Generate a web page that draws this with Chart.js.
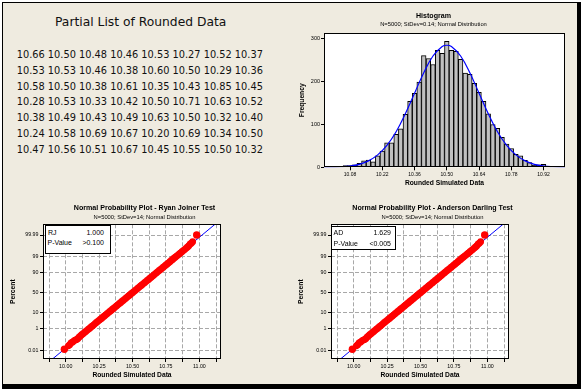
<!DOCTYPE html>
<html lang="en">
<head>
<meta charset="UTF-8">
<title>Partial List of Rounded Data</title>
<script src="https://cdn.jsdelivr.net/npm/chart.js@4.4.0/dist/chart.umd.min.js"></script>
<style>
  body { margin: 0; width: 581px; height: 389px; overflow: hidden; position: relative; background: #fff; }
  .frame {
    position: absolute; left: 2px; top: 2px; width: 579px; height: 387px; box-sizing: border-box;
    background: #efebe0; border-left: 1px solid #000; border-top: 1px solid #000;
    border-right: 4px solid #000; border-bottom: 5px solid #000;
  }
  canvas { position: absolute; display: block; }
  #listTitle {
    position: absolute; left: 55px; top: 15px; font: 12.3px/14px 'DejaVu Sans', sans-serif; color: #111; white-space: nowrap;
  }
  #numbers {
    position: absolute; left: 16.7px; top: 47.3px; font: 9.8px/15.72px 'DejaVu Sans', sans-serif; color: #111; white-space: pre;
  }
  .statBox {
    position: absolute; background: #fff; border: 1.5px solid #000; box-sizing: border-box;
    font: 7px 'Liberation Sans', Arial, sans-serif; color: #000;
  }
  .statBox span { position: absolute; line-height: 8px; white-space: nowrap; }
</style>
</head>
<body>
<div class="frame"></div>
<div id="listTitle">Partial List of Rounded Data</div>
<div id="numbers"></div>

<canvas id="histChart" width="287" height="195" style="left:290px; top:0px;"></canvas>
<canvas id="rjChart" width="285" height="185" style="left:2px; top:197px;"></canvas>
<canvas id="adChart" width="285" height="185" style="left:290px; top:197px;"></canvas>

<div class="statBox" style="left:45px; top:224.5px; width:66px; height:29.5px;">
  <span style="left:2px; top:3px;">RJ</span><span style="right:6px; top:3px;">1.000</span>
  <span style="left:1.5px; top:13px;">P-Value</span><span style="right:6px; top:13px;">&gt;0.100</span>
</div>
<div class="statBox" style="left:330.5px; top:225.5px; width:65.5px; height:24.5px;">
  <span style="left:2px; top:2px;">AD</span><span style="right:4px; top:2px;">1.629</span>
  <span style="left:2px; top:13px;">P-Value</span><span style="right:4px; top:13px;">&lt;0.005</span>
</div>

<script>
// partial list of the rounded data (text panel)
const listRows = [
  [10.66, 10.50, 10.48, 10.46, 10.53, 10.27, 10.52, 10.37],
  [10.53, 10.53, 10.46, 10.38, 10.60, 10.50, 10.29, 10.36],
  [10.58, 10.50, 10.38, 10.61, 10.35, 10.43, 10.85, 10.45],
  [10.28, 10.53, 10.33, 10.42, 10.50, 10.71, 10.63, 10.52],
  [10.38, 10.49, 10.43, 10.49, 10.63, 10.50, 10.32, 10.40],
  [10.24, 10.58, 10.69, 10.67, 10.20, 10.69, 10.34, 10.50],
  [10.47, 10.56, 10.51, 10.67, 10.45, 10.55, 10.50, 10.32]
];

// histogram: bin centres (width 0.02) and counts
const histBins = [10.02, 10.04, 10.06, 10.08, 10.10, 10.12, 10.14, 10.16, 10.18, 10.20,
  10.22, 10.24, 10.26, 10.28, 10.30, 10.32, 10.34, 10.36, 10.38, 10.40,
  10.42, 10.44, 10.46, 10.48, 10.50, 10.52, 10.54, 10.56, 10.58, 10.60,
  10.62, 10.64, 10.66, 10.68, 10.70, 10.72, 10.74, 10.76, 10.78, 10.80,
  10.82, 10.84, 10.86, 10.88, 10.90, 10.92, 10.94];
const histCounts = [1, 2, 4, 4, 6, 9, 15, 17, 13, 27,
  38, 57, 57, 77, 90, 124, 154, 173, 199, 261,
  254, 240, 273, 266, 294, 273, 271, 252, 220, 217,
  196, 175, 154, 125, 100, 91, 70, 54, 44, 30,
  27, 16, 11, 5, 6, 7, 2];

// fitted normal curve
const curveX = [9.96, 10.00, 10.04, 10.08, 10.12, 10.16, 10.20, 10.24, 10.28, 10.32, 10.36, 10.40, 10.44, 10.48, 10.50,
  10.52, 10.56, 10.60, 10.64, 10.68, 10.72, 10.76, 10.80, 10.84, 10.88, 10.92, 10.96, 11.00, 11.04];
const curveY = [0.2, 0.5, 1.3, 3, 7, 15, 29, 51, 83, 125, 173, 221, 260, 282, 285,
  282, 260, 221, 173, 125, 83, 51, 29, 15, 7, 3, 1.3, 0.5, 0.2];

const histXTicks = [10.08, 10.22, 10.36, 10.50, 10.64, 10.78, 10.92];
const histYTicks = [0, 100, 200, 300];

// normal probability plot points (value, cumulative percent)
const probX = [9.99, 10.02, 10.03, 10.04, 10.05, 10.06, 10.07, 10.08, 10.09, 10.10,
  10.11, 10.12, 10.13, 10.14, 10.15, 10.16, 10.17, 10.18, 10.19, 10.20,
  10.21, 10.22, 10.23, 10.24, 10.25, 10.26, 10.27, 10.28, 10.29, 10.30,
  10.31, 10.32, 10.33, 10.34, 10.35, 10.36, 10.37, 10.38, 10.39, 10.40,
  10.41, 10.42, 10.43, 10.44, 10.45, 10.46, 10.47, 10.48, 10.49, 10.50,
  10.51, 10.52, 10.53, 10.54, 10.55, 10.56, 10.57, 10.58, 10.59, 10.60,
  10.61, 10.62, 10.63, 10.64, 10.65, 10.66, 10.67, 10.68, 10.69, 10.70,
  10.71, 10.72, 10.73, 10.74, 10.75, 10.76, 10.77, 10.78, 10.79, 10.80,
  10.81, 10.82, 10.83, 10.84, 10.85, 10.86, 10.87, 10.88, 10.89, 10.90,
  10.91, 10.92, 10.93, 10.94, 10.95, 10.98];
const probPct = [0.013, 0.03, 0.04, 0.06, 0.07, 0.09, 0.11, 0.12, 0.15, 0.2,
  0.26, 0.33, 0.41, 0.5, 0.62, 0.76, 0.92, 1.1, 1.34, 1.6,
  1.9, 2.3, 2.7, 3.2, 3.7, 4.3, 5.0, 5.8, 6.7, 7.6,
  8.7, 9.9, 11.2, 12.6, 14.2, 15.9, 17.6, 19.6, 21.6, 23.8,
  26.0, 28.4, 30.9, 33.4, 36.0, 38.8, 41.5, 44.3, 47.2, 50.0,
  52.9, 55.7, 58.5, 61.3, 64.0, 66.6, 69.2, 71.6, 74.0, 76.2,
  78.4, 80.4, 82.4, 84.1, 85.8, 87.3, 88.8, 90.1, 91.3, 92.4,
  93.3, 94.2, 95.0, 95.7, 96.3, 96.8, 97.3, 97.7, 98.1, 98.4,
  98.7, 98.9, 99.08, 99.24, 99.38, 99.49, 99.59, 99.67, 99.73, 99.79,
  99.83, 99.87, 99.91, 99.93, 99.95, 99.99];

// fitted line end points
const fitX = [9.85, 11.15];
const fitPct = [0.00017, 99.99983];

const probGridX = [9.875, 10.0, 10.125, 10.25, 10.375, 10.5, 10.625, 10.75, 10.875, 11.0, 11.125];
const probXLabels = ['10.00', '10.25', '10.50', '10.75', '11.00'];
const probPctTicks = [0.01, 1, 10, 50, 90, 99, 99.99];
const probPctLabels = ['0.01', '1', '10', '50', '90', '99', '99.99'];

document.getElementById('numbers').textContent =
  listRows.map(r => r.map(v => v.toFixed(2)).join(' ')).join('\n');

// inverse normal cdf, used for the probability axis
function probit(p) {
  const a = [-3.969683028665376e+01, 2.209460984245205e+02, -2.759285104469687e+02, 1.383577518672690e+02, -3.066479806614716e+01, 2.506628277459239e+00];
  const b = [-5.447609879822406e+01, 1.615858368580409e+02, -1.556989798598866e+02, 6.680131188771972e+01, -1.328068155288572e+01];
  const c = [-7.784894002430293e-03, -3.223964580411365e-01, -2.400758277161838e+00, -2.549732539343734e+00, 4.374664141464968e+00, 2.938163982698783e+00];
  const d = [7.784695709041462e-03, 3.224671290700398e-01, 2.445134137142996e+00, 3.754408661907416e+00];
  const pl = 0.02425;
  let q, r;
  if (p < pl) {
    q = Math.sqrt(-2 * Math.log(p));
    return (((((c[0]*q+c[1])*q+c[2])*q+c[3])*q+c[4])*q+c[5]) / ((((d[0]*q+d[1])*q+d[2])*q+d[3])*q+1);
  }
  if (p > 1 - pl) {
    q = Math.sqrt(-2 * Math.log(1 - p));
    return -(((((c[0]*q+c[1])*q+c[2])*q+c[3])*q+c[4])*q+c[5]) / ((((d[0]*q+d[1])*q+d[2])*q+d[3])*q+1);
  }
  q = p - 0.5; r = q * q;
  return (((((a[0]*r+a[1])*r+a[2])*r+a[3])*r+a[4])*r+a[5])*q / (((((b[0]*r+b[1])*r+b[2])*r+b[3])*r+b[4])*r+1);
}

Chart.defaults.font.family = "'Liberation Sans', Arial, sans-serif";
Chart.defaults.color = '#000';
Chart.defaults.animation = false;

// white plot area + black frame
const plotFrame = {
  id: 'plotFrame',
  beforeDraw(chart) {
    const a = chart.chartArea, ctx = chart.ctx;
    ctx.save();
    ctx.fillStyle = '#fff';
    ctx.fillRect(a.left, a.top, a.right - a.left, a.bottom - a.top);
    ctx.restore();
  },
  afterDraw(chart) {
    const a = chart.chartArea, ctx = chart.ctx;
    ctx.save();
    ctx.strokeStyle = '#000';
    ctx.lineWidth = 1;
    const l = Math.round(a.left) + 0.5, t = Math.round(a.top) + 0.5;
    const r = Math.round(a.right) - 0.5, b = Math.round(a.bottom) - 0.5;
    ctx.strokeRect(l, t, r - l, b - t);
    ctx.restore();
  }
};

// empty right-hand axis, only reserves space so titles stay centred on the panel
function spacer(w) {
  return {
    position: 'right', display: true,
    afterFit: s => { s.width = w; },
    grid: { display: false }, border: { display: false }, ticks: { display: false }
  };
}

const titleFont = { size: 7.1, weight: 'bold' };
const subFont = { size: 5.8 };
const axisTitleFont = { size: 6.7, weight: 'bold' };

// ---- histogram ----
new Chart(document.getElementById('histChart'), {
  type: 'bar',
  data: {
    datasets: [
      {
        type: 'line',
        data: curveX.map((x, i) => ({ x: x, y: curveY[i] })),
        borderColor: '#0000ff',
        borderWidth: 1.2,
        pointRadius: 0,
        tension: 0.4
      },
      {
        type: 'bar',
        data: histBins.map((x, i) => ({ x: x, y: histCounts[i] })),
        backgroundColor: '#c0c0c0',
        borderColor: '#000',
        borderWidth: 1,
        barPercentage: 1,
        categoryPercentage: 1
      }
    ]
  },
  options: {
    responsive: false,
    devicePixelRatio: 1,
    layout: { padding: 0 },
    plugins: {
      legend: { display: false },
      tooltip: { enabled: false },
      title: { display: true, text: 'Histogram', font: titleFont, padding: { top: 11.75, bottom: 0 } },
      subtitle: { display: true, text: 'N=5000; StDev=0.14; Normal Distribution', font: subFont, padding: { top: 0.55, bottom: 5.5 } }
    },
    scales: {
      x: {
        type: 'linear', min: 9.967, max: 11.013, offset: false,
        afterBuildTicks: s => { s.ticks = histXTicks.map(v => ({ value: v })); },
        afterFit: s => { s.height = 27.7; },
        grid: { offset: false, drawOnChartArea: false, drawTicks: true, tickLength: 3, color: '#000' },
        border: { display: false },
        ticks: { font: { size: 5 }, padding: 1, maxRotation: 0, autoSkip: false, callback: v => v.toFixed(2) },
        title: { display: true, text: 'Rounded Simulated Data', font: axisTitleFont, padding: { top: 0, bottom: 8.3 } }
      },
      y: {
        min: 0, max: 313,
        afterBuildTicks: s => { s.ticks = histYTicks.map(v => ({ value: v })); },
        afterFit: s => { s.width = 34; },
        grid: { drawOnChartArea: false, drawTicks: true, tickLength: 3, color: '#000' },
        border: { display: false },
        ticks: { font: { size: 5.5 }, padding: 1 },
        title: { display: true, text: 'Frequency', font: axisTitleFont, padding: { top: 7.7, bottom: 0 } }
      },
      pad: spacer(12)
    }
  },
  plugins: [plotFrame]
});

// ---- normal probability plots ----
function probChart(id, title) {
  return new Chart(document.getElementById(id), {
    type: 'scatter',
    data: {
      datasets: [
        {
          data: probX.map((x, i) => ({ x: x, y: probit(probPct[i] / 100) })),
          pointBackgroundColor: '#ff0000',
          pointBorderWidth: 0,
          pointRadius: c => (c.dataIndex === 0 || c.dataIndex === probX.length - 1) ? 3.7 : 3.4
        },
        {
          data: fitX.map((x, i) => ({ x: x, y: probit(fitPct[i] / 100) })),
          showLine: true,
          borderColor: '#0000ff',
          borderWidth: 1,
          pointRadius: 0
        }
      ]
    },
    options: {
      responsive: false,
      devicePixelRatio: 1,
      layout: { padding: 0 },
      plugins: {
        legend: { display: false },
        tooltip: { enabled: false },
        title: { display: true, text: title, font: titleFont, padding: { top: 7.04, bottom: 0 } },
        subtitle: { display: true, text: 'N=5000; StDev=14; Normal Distribution', font: subFont, padding: { top: 0.96, bottom: 3.82 } }
      },
      scales: {
        x: {
          type: 'linear', min: 9.83, max: 11.162,
          afterBuildTicks: s => { s.ticks = probGridX.map(v => ({ value: v })); },
          afterFit: s => { s.height = 23; },
          grid: { color: '#a8a8a8', drawTicks: true, tickLength: 3, tickColor: '#000' },
          border: { display: false, dash: [4, 2] },
          ticks: {
            font: { size: 5.3 }, padding: 1.5, maxRotation: 0, autoSkip: false,
            callback: v => { const s = v.toFixed(2); return probXLabels.includes(s) ? s : ''; }
          },
          title: { display: true, text: 'Rounded Simulated Data', font: axisTitleFont, padding: { top: 0, bottom: 3 } }
        },
        y: {
          type: 'linear', min: -4.28, max: 4.41,
          afterBuildTicks: s => { s.ticks = probPctTicks.map(p => ({ value: probit(p / 100) })); },
          afterFit: s => { s.width = 41; },
          grid: { color: '#a8a8a8', drawTicks: true, tickLength: 3, tickColor: '#000' },
          border: { display: false, dash: [4, 2] },
          ticks: { font: { size: 5.3 }, padding: 1.5, autoSkip: false, callback: (v, i) => probPctLabels[i] },
          title: { display: true, text: 'Percent', font: axisTitleFont, padding: { top: 7.3, bottom: 0 } }
        },
        pad: spacer(66)
      }
    },
    plugins: [plotFrame]
  });
}

probChart('rjChart', 'Normal Probability Plot - Ryan Joiner Test');
probChart('adChart', 'Normal Probability Plot - Anderson Darling Test');
</script>
</body>
</html>
